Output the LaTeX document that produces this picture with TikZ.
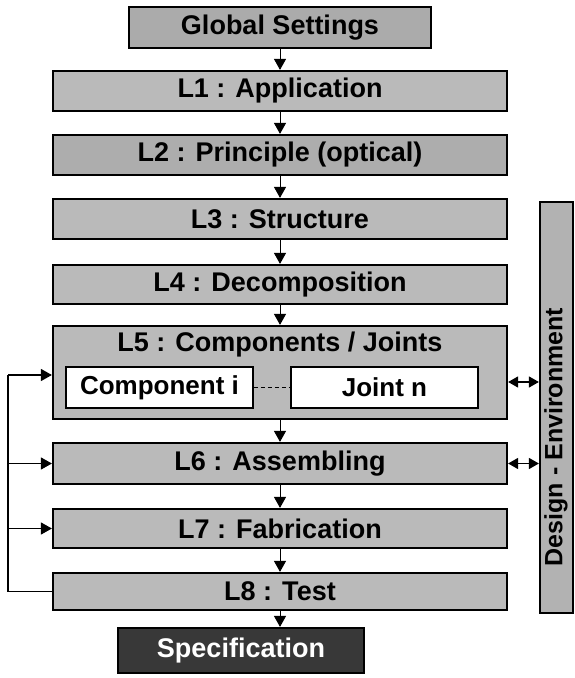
\documentclass[tikz,border=0pt]{standalone}
\usepackage{fontspec}
\setmainfont{Liberation Sans}
\usetikzlibrary{arrows.meta}
\begin{document}
\begin{tikzpicture}[x=1pt,y=-1pt,
  lvl/.style={draw=black, line width=2.2pt, fill=black!27, inner sep=0pt,
    minimum width=454pt, minimum height=40pt,
    font=\bfseries\fontsize{27}{30}\selectfont},
  sub/.style={draw=black, line width=1.6pt, fill=white, inner sep=0pt,
    minimum width=187pt, minimum height=41pt,
    font=\bfseries\fontsize{26}{30}\selectfont},
  lbl/.style={inner sep=0pt, font=\bfseries\fontsize{27}{30}\selectfont},
  arr/.style={-{Triangle[width=12pt,length=11pt]}, line width=0.9pt},
  dblarr/.style={{Triangle[width=11pt,length=10pt]}-{Triangle[width=11pt,length=10pt]}, line width=1.4pt},
  fb/.style={line width=1.3pt}
]
\useasboundingbox (0,0) rectangle (574,678);

\node[lvl, minimum width=302pt, minimum height=41pt, fill=black!33] (gs) at (280,27.5) {Global Settings};
\node[lvl] (l1) at (280,91) {L1 : Application};
\node[lvl, fill=black!32] (l2) at (280,155) {L2 : Principle (optical)};
\node[lvl] (l3) at (280,219) {L3 : Structure};
\node[lvl, minimum height=39pt] (l4) at (280,284.5) {L4 : Decomposition};
\node[lvl, minimum height=93pt] (l5) at (280,372.5) {};
\node[lbl] (l5t) at (280,345) {L5 : Components / Joints};
\node[sub] (comp) at (159.5,387.5) {Component i};
\node[sub] (joint) at (384.5,387.5) {Joint n};
\node[lvl, minimum height=41pt] (l6) at (280,463.5) {L6 : Assembling};
\node[lvl, minimum height=39pt] (l7) at (280,528.5) {L7 : Fabrication};
\node[lvl, minimum height=37pt] (l8) at (280,591.5) {L8 : Test};
\node[lvl, minimum width=246pt, minimum height=45pt, fill=black!78, text=white] (spec) at (241,650.5) {Specification};

\node[lvl, rotate=90, minimum width=411pt, minimum height=33pt, fill=black!30] (design) at (556.5,407.5) {};
\node[inner sep=0pt, rotate=90, font=\bfseries\fontsize{25}{30}\selectfont] (dtxt) at (556,437) {Design - Environment};

\draw[dashed, line width=1pt, dash pattern=on 4pt off 3pt] (comp.east) -- (joint.west);

\draw[arr] (gs.south) -- (l1.north);
\draw[arr] (l1.south) -- (l2.north);
\draw[arr] (l2.south) -- (l3.north);
\draw[arr] (l3.south) -- (l4.north);
\draw[arr] (l4.south) -- (l5.north);
\draw[arr] (l5.south) -- (l6.north);
\draw[arr] (l6.south) -- (l7.north);
\draw[arr] (l7.south) -- (l8.north);
\draw[arr] (l8.south) -- (l8.south |- spec.north);

\coordinate (fb5) at (8,375);
\draw[fb] (l8.west) -| (fb5);
\draw[fb, arr, line width=1.3pt] (fb5) -- (fb5 -| l5.west);
\draw[fb, arr, line width=1.3pt] (fb5 |- l6.west) -- (l6.west);
\draw[fb, arr, line width=1.3pt] (fb5 |- l7.west) -- (l7.west);

\coordinate (d5) at (520,382);
\draw[dblarr] (d5 -| l5.east) -- (d5 -| design.north);
\draw[dblarr] (l6.east) -- (l6.east -| design.north);
\end{tikzpicture}
\end{document}
